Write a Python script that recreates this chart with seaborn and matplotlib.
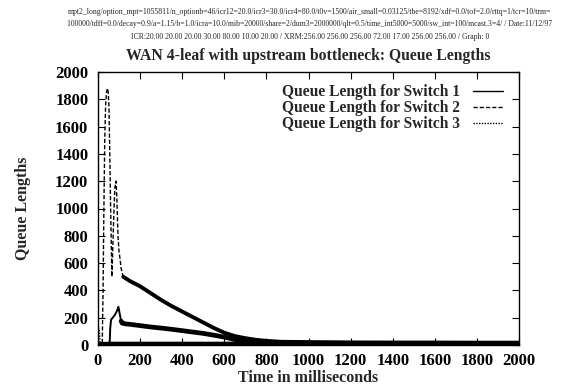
import matplotlib
matplotlib.use("Agg")
import matplotlib.pyplot as plt
import seaborn as sns
import pandas as pd

# ---------------- data ----------------
t_sw1 = [0, 50, 55, 58, 62, 70, 80, 90, 97, 103, 110, 115, 130, 160, 200, 250, 300, 350,
         400, 450, 500, 550, 600, 650, 700, 750, 800, 900, 1000, 1200, 1400, 1600, 1800, 2000]
q_sw1 = [0, 0, 0, 120, 185, 200, 220, 250, 280, 230, 175, 160, 155, 150, 142, 132, 124, 115,
         105, 95, 85, 72, 58, 40, 30, 25, 22, 20, 18, 16, 15, 15, 14, 14]

t_sw2 = [0, 15, 20, 24, 28, 32, 36, 40, 45, 48, 52, 56, 60, 66, 70, 75, 80, 86, 90, 95,
         100, 104, 110, 120, 150, 200, 250, 300, 350, 400, 450, 500, 550, 600, 650, 700,
         750, 800, 850, 900, 1000, 1200, 1400, 1600, 1800, 2000]
q_sw2 = [0, 0, 0, 400, 1000, 1500, 1750, 1850, 1880, 1860, 1750, 1400, 1000, 500, 700, 950,
         1150, 1200, 1050, 800, 680, 640, 560, 500, 470, 430, 380, 330, 285, 245, 205, 165,
         125, 90, 65, 50, 38, 30, 24, 20, 17, 15, 14, 14, 13, 13]

t_sw3 = [0, 2, 6, 10, 50, 100, 200, 400, 600, 800, 1000, 1200, 1400, 1600, 1800, 2000]
q_sw3 = [0, 125, 120, 5, 8, 8, 8, 8, 8, 8, 8, 8, 8, 8, 8, 8]

labels = ["Queue Length for Switch 1", "Queue Length for Switch 2", "Queue Length for Switch 3"]
x_ticks = [0, 200, 400, 600, 800, 1000, 1200, 1400, 1600, 1800, 2000]
y_ticks = [0, 200, 400, 600, 800, 1000, 1200, 1400, 1600, 1800, 2000]

header = [
    "mpt2_long/option_mpt=1055811/n_optionb=46/icr12=20.0/icr3=30.0/icr4=80.0/t0v=1500/air_small=0.03125/tbe=8192/xdf=0.0/tof=2.0/rttq=1/tcr=10/trm=",
    "100000/tdff=0.0/decay=0.9/a=1.15/b=1.0/icra=10.0/mib=20000/share=2/dum3=2000000/qlt=0.5/time_int5000=5000/sw_int=100/mcast.3=4/ / Date:11/12/97",
    "ICR:20.00 20.00 20.00 30.00 80.00 10.00 20.00 / XRM:256.00 256.00 256.00 72.00 17.00 256.00 256.00 / Graph: 0",
]
title = "WAN 4-leaf with upstream bottleneck: Queue Lengths"

# ---------------- style ----------------
sns.set_theme(style="ticks")
plt.rcParams["font.family"] = ["Liberation Serif", "DejaVu Serif"]
plt.rcParams["font.weight"] = "bold"

fig = plt.figure(figsize=(5.67, 3.9), dpi=100)
ax = fig.add_axes([98 / 567, 45 / 390, 421 / 567, 273 / 390])

df1 = pd.DataFrame({"t": t_sw1, "q": q_sw1})
df2 = pd.DataFrame({"t": t_sw2, "q": q_sw2})
df3 = pd.DataFrame({"t": t_sw3, "q": q_sw3})

# main lines (used for legend)
sns.lineplot(data=df1, x="t", y="q", ax=ax, color="black", lw=1.4, linestyle="-", label=labels[0])
sns.lineplot(data=df2, x="t", y="q", ax=ax, color="black", lw=1.0, linestyle=(0, (3, 1.5)), label=labels[1])
sns.lineplot(data=df3, x="t", y="q", ax=ax, color="black", lw=1.0, linestyle=(0, (1, 1)), label=labels[2])

# noisy bands of the tails (approximated by thick strokes)
sns.lineplot(data=df1[df1["t"] >= 110], x="t", y="q", ax=ax, color="black", lw=3.4, legend=False)
sns.lineplot(data=df2[df2["t"] >= 120], x="t", y="q", ax=ax, color="black", lw=2.8, legend=False)
sns.lineplot(data=df3[df3["t"] >= 10], x="t", y="q", ax=ax, color="black", lw=3.2, legend=False)

ax.set_xlim(0, 2000)
ax.set_ylim(0, 2000)
ax.set_xticks(x_ticks)
ax.set_yticks(y_ticks)
ax.tick_params(direction="in", length=5, width=0.8, top=True, right=True,
               labelsize=12, colors="black")
ax.tick_params(axis="x", pad=6)
ax.tick_params(axis="y", pad=7)
for lab in ax.get_xticklabels() + ax.get_yticklabels():
    lab.set_fontweight("bold")
for s in ax.spines.values():
    s.set_linewidth(1.0)
    s.set_color("black")

ax.set_xlabel("Time in milliseconds", fontsize=11.5, fontweight="bold", labelpad=0.5)
ax.set_ylabel("Queue Lengths", fontsize=11.5, fontweight="bold", labelpad=17)
ax.set_title(title, fontsize=11.3, fontweight="bold", pad=9)

leg = ax.legend(loc="upper right", markerfirst=False, frameon=False, fontsize=11.2,
                handlelength=1.9, handletextpad=0.85, labelspacing=0.0,
                borderaxespad=0.0, borderpad=0.0, bbox_to_anchor=(0.962, 0.955))
for txt in leg.get_texts():
    txt.set_fontweight("bold")
for line in leg.get_lines():
    line.set_linewidth(1.0)

for i, line in enumerate(header):
    fig.text(310 / 567, 1 - (12 + 12.5 * i) / 390, line, ha="center", va="center",
             fontsize=5.6, fontweight="normal", family=["Liberation Serif", "DejaVu Serif"])

fig.savefig("out.png", dpi=100)
